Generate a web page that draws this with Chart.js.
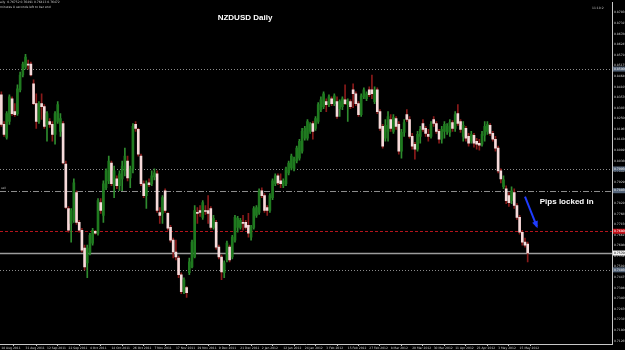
<!DOCTYPE html>
<html>
<head>
<meta charset="utf-8">
<script src="https://cdn.jsdelivr.net/npm/chart.js@4.4.1/dist/chart.umd.min.js"></script>
<style>
  html, body { margin: 0; padding: 0; background: #000; }
  canvas { display: block; }
</style>
</head>
<body>
<canvas id="chart" width="625" height="350"></canvas>
<script>
// tick labels
const tickDates = ["18 Aug 2011", "31 Aug 2011", "12 Sep 2011", "22 Sep 2011", "4 Oct 2011", "14 Oct 2011",
    "26 Oct 2011", "7 Nov 2011", "17 Nov 2011", "29 Nov 2011", "9 Dec 2011", "21 Dec 2011", "2 Jan 2012",
    "12 Jan 2012", "24 Jan 2012", "3 Feb 2012", "15 Feb 2012", "27 Feb 2012", "8 Mar 2012", "20 Mar 2012",
    "30 Mar 2012", "11 Apr 2012", "23 Apr 2012", "3 May 2012", "15 May 2012"];

const priceTicks = [0.87850, 0.87315, 0.86780, 0.86245, 0.85710, 0.85175, 0.84640, 0.84105, 0.83570, 0.83035,
    0.82500, 0.81965, 0.81430, 0.80895, 0.80360, 0.79825, 0.79290, 0.78755, 0.78220, 0.77685, 0.77150,
    0.76615, 0.76080, 0.75545, 0.75010, 0.74475, 0.73940, 0.73405, 0.72870, 0.72335, 0.71800, 0.71265];

// daily bars, 18 Aug 2011 -> 18 May 2012
const opens = [
    .8370, .8220, .8155, .8235, .8350, .8285, .8275, .8395, .8470, .8510,
    .8525, .8525, .8425, .8325, .8235, .8325, .8310, .8220, .8235, .8220,
    .8170, .8235, .8185, .8225, .8020, .7795, .7720, .7735, .7875, .7725,
    .7685, .7595, .7520, .7570, .7620, .7680, .7670, .7825, .7760, .7900,
    .7935, .8025, .7910, .7945, .7910, .7945, .7985, .8035, .7950, .7995,
    .8220, .8195, .8060, .7920, .7860, .7925, .7920, .7955, .7970,
    .7775, .7770, .7885, .7770, .7700, .7635, .7575, .7545,
    .7460, .7375, .7395, .7470, .7500, .7550, .7775, .7785, .7750, .7785,
    .7785, .7795, .7700, .7725, .7600, .7550, .7470, .7535, .7600, .7550,
    .7635, .7700, .7700, .7725, .7725, .7710, .7650, .7700, .7760, .7775,
    .7885, .7860, .7800, .7785, .7850, .7920, .7960, .7935, .7910, .7920,
    .7975, .8000, .7995, .8035, .8050, .8085, .8150, .8150, .8185, .8225,
    .8200, .8235, .8295,
    .8310, .8335, .8320, .8350, .8325, .8335, .8300, .8310, .8345, .8320,
    .8335, .8395, .8375, .8325, .8270, .8360, .8350, .8395, .8395, .8335,
    .8395, .8285, .8210, .8150, .8185, .8245, .8185, .8250, .8220, .8085,
    .8180, .8270, .8245, .8160, .8120, .8095, .8160, .8225, .8200, .8170,
    .8160, .8245, .8225, .8185, .8145, .8185, .8185, .8180, .8230, .8200,
    .8275, .8235, .8160, .8200, .8160, .8135, .8165, .8135, .8125, .8120,
    .8165, .8185, .8215, .8175, .8145, .8100, .7985, .7905, .7895, .7860,
    .7835, .7875, .7810, .7750, .7675, .7625, .7615
];
const highs = [
    .8385, .8235, .8285, .8370, .8360, .8325, .8420, .8485, .8535, .8575,
    .8545, .8535, .8445, .8375, .8335, .8375, .8320, .8285, .8250, .8235,
    .8285, .8335, .8275, .8235, .8035, .7805, .7795, .7945, .7885, .7735,
    .7695, .7610, .7610, .7670, .7695, .7685, .7845, .7845, .7935, .7995,
    .8060, .8035, .8010, .7960, .7985, .8035, .8100, .8060, .8010, .8225,
    .8235, .8200, .8070, .7935, .7935, .7945, .7985, .7995, .7985,
    .7800, .7860, .7895, .7775, .7710, .7645, .7635, .7555,
    .7470, .7445, .7400, .7545, .7635, .7810, .7800, .7810, .7835, .7810,
    .7860, .7805, .7760, .7735, .7610, .7560, .7530, .7630, .7610, .7660,
    .7760, .7755, .7745, .7760, .7735, .7770, .7710, .7805, .7810, .7895,
    .7900, .7870, .7810, .7870, .7945, .7970, .7970, .7970, .7945, .8005,
    .8035, .8070, .8055, .8110, .8145, .8200, .8210, .8245, .8230, .8235,
    .8260, .8330, .8360,
    .8385, .8350, .8370, .8360, .8375, .8360, .8345, .8360, .8420, .8350,
    .8345, .8425, .8385, .8335, .8375, .8405, .8385, .8410, .8470, .8410,
    .8405, .8295, .8220, .8245, .8285, .8270, .8270, .8260, .8235, .8195,
    .8245, .8295, .8260, .8175, .8130, .8185, .8210, .8245, .8210, .8195,
    .8235, .8260, .8235, .8195, .8210, .8235, .8225, .8245, .8240, .8285,
    .8320, .8245, .8235, .8210, .8175, .8185, .8175, .8150, .8145, .8185,
    .8235, .8235, .8225, .8185, .8160, .8110, .7995, .7960, .7910, .7875,
    .7905, .7895, .7820, .7760, .7685, .7645, .7625
];
const lows = [
    .8210, .8160, .8145, .8220, .8265, .8260, .8265, .8385, .8460, .8500,
    .8500, .8465, .8320, .8200, .8225, .8245, .8200, .8135, .8205, .8135,
    .8120, .8225, .8160, .8020, .7795, .7675, .7625, .7725, .7715, .7675,
    .7575, .7485, .7445, .7560, .7610, .7665, .7660, .7770, .7725, .7890,
    .7920, .7910, .7850, .7895, .7885, .7885, .7960, .7935, .7900, .7975,
    .8185, .8060, .7910, .7850, .7795, .7905, .7910, .7940, .7775,
    .7720, .7720, .7775, .7685, .7625, .7545, .7535, .7445,
    .7365, .7365, .7345, .7460, .7495, .7545, .7720, .7755, .7740, .7765,
    .7720, .7690, .7690, .7590, .7540, .7435, .7445, .7525, .7525, .7540,
    .7625, .7675, .7690, .7685, .7690, .7650, .7635, .7690, .7750, .7765,
    .7850, .7775, .7760, .7775, .7840, .7910, .7915, .7900, .7900, .7910,
    .7965, .7990, .7985, .8025, .8040, .8075, .8140, .8140, .8175, .8145,
    .8190, .8225, .8285,
    .8300, .8285, .8310, .8315, .8315, .8250, .8260, .8295, .8320, .8235,
    .8300, .8305, .8315, .8260, .8260, .8350, .8340, .8360, .8350, .8325,
    .8275, .8190, .8100, .8135, .8135, .8185, .8175, .8195, .8070, .8050,
    .8160, .8235, .8150, .8095, .8045, .8085, .8125, .8185, .8160, .8135,
    .8150, .8210, .8175, .8125, .8125, .8150, .8170, .8160, .8185, .8185,
    .8215, .8180, .8135, .8135, .8110, .8125, .8105, .8095, .8090, .8110,
    .8135, .8170, .8165, .8135, .8085, .7975, .7925, .7895, .7820, .7805,
    .7820, .7795, .7740, .7665, .7610, .7600, .7525
];
const closes = [
    .8220, .8170, .8275, .8360, .8275, .8270, .8400, .8470, .8525, .8560,
    .8520, .8470, .8325, .8235, .8325, .8310, .8210, .8275, .8220, .8170,
    .8275, .8320, .8250, .8025, .7800, .7685, .7785, .7925, .7725, .7685,
    .7585, .7500, .7595, .7660, .7685, .7670, .7835, .7785, .7920, .7985,
    .8035, .7920, .7985, .7910, .7970, .8010, .8060, .7950, .7995, .8210,
    .8200, .8070, .7920, .7860, .7920, .7915, .7960, .7975, .7785,
    .7760, .7850, .7785, .7695, .7635, .7575, .7550, .7460,
    .7375, .7435, .7370, .7525, .7625, .7785, .7770, .7775, .7825, .7780,
    .7770, .7700, .7745, .7600, .7550, .7475, .7520, .7620, .7535, .7650,
    .7750, .7745, .7735, .7720, .7700, .7670, .7700, .7795, .7800, .7885,
    .7860, .7785, .7785, .7860, .7935, .7960, .7925, .7920, .7935, .7995,
    .8025, .8060, .8045, .8100, .8135, .8185, .8200, .8235, .8220, .8185,
    .8250, .8320, .8345,
    .8375, .8320, .8360, .8325, .8365, .8260, .8335, .8350, .8325, .8335,
    .8310, .8375, .8325, .8270, .8365, .8395, .8375, .8370, .8375, .8395,
    .8285, .8200, .8110, .8215, .8260, .8200, .8255, .8210, .8085, .8180,
    .8230, .8245, .8160, .8110, .8095, .8170, .8195, .8195, .8175, .8160,
    .8220, .8225, .8185, .8145, .8195, .8220, .8210, .8230, .8200, .8270,
    .8225, .8195, .8215, .8150, .8125, .8170, .8125, .8120, .8115, .8170,
    .8210, .8220, .8175, .8145, .8100, .7985, .7945, .7940, .7835, .7825,
    .7885, .7810, .7750, .7675, .7625, .7610, .7570
];

// horizontal lines drawn on the chart (price levels)
const levelPrices = [0.8500, 0.7995, 0.7885, 0.7680, 0.7570, 0.7485];
const levelStyles = [
    { color: "#8c8c8c", dash: [1, 2], width: 1, box: "#55657a", text: "#e8e8e8" },
    { color: "#8c8c8c", dash: [1, 2], width: 1, box: "#55657a", text: "#e8e8e8" },
    { color: "#8c8c8c", dash: [6, 2, 1, 2], width: 1, box: "#55657a", text: "#e8e8e8" },
    { color: "#b3141c", dash: [3, 2], width: 1, box: "#c8121a", text: "#ffffff" },
    { color: "#9c9c9c", dash: [], width: 1.6, box: "#f2f2f2", text: "#000000" },
    { color: "#8c8c8c", dash: [1, 2], width: 1, box: "#55657a", text: "#e8e8e8" },
];

const infoLines = ["aily  0.76752 0.76491 0.76413 0.76472", "minutes 8 seconds left to bar end"];

const MONTHS = ["Jan", "Feb", "Mar", "Apr", "May", "Jun", "Jul", "Aug", "Sep", "Oct", "Nov", "Dec"];
const dates = [];
let day = new Date(Date.UTC(2011, 7, 18));
while (dates.length < opens.length) {
    const wd = day.getUTCDay();
    if (wd !== 0 && wd !== 6) {
        dates.push(`${day.getUTCDate()} ${MONTHS[day.getUTCMonth()]} ${day.getUTCFullYear()}`);
    }
    day = new Date(day.getTime() + 86400000);
}
const tickIdx = tickDates.map((t) => dates.indexOf(t)).filter((i) => i >= 0);

const BULL_BODY = "#1f7a1f";
const BULL_WICK = "#2e8b2e";
const BEAR_BODY = "#f6dada";
const BEAR_WICK = "#8a1a1a";

const isBull = (i) => closes[i] >= opens[i];

const overlay = {
    id: "overlay",
    beforeDraw(chart) {
        const { ctx } = chart;
        ctx.save();
        ctx.fillStyle = "#000";
        ctx.fillRect(0, 0, chart.width, chart.height);
        ctx.restore();
    },
    beforeDatasetsDraw(chart) {
        const { ctx, chartArea, scales } = chart;
        ctx.save();
        levelPrices.forEach((p, k) => {
            const st = levelStyles[k];
            const y = Math.round(scales.y.getPixelForValue(p)) + 0.5;
            ctx.strokeStyle = st.color;
            ctx.lineWidth = st.width;
            ctx.setLineDash(st.dash);
            ctx.beginPath();
            ctx.moveTo(chartArea.left, y);
            ctx.lineTo(chartArea.right, y);
            ctx.stroke();
        });
        ctx.setLineDash([]);
        // small object label at the left end of the dash-dot line
        ctx.fillStyle = "#bdbdbd";
        ctx.font = "3px 'DejaVu Sans'";
        ctx.textBaseline = "bottom";
        ctx.fillText("sell", chartArea.left + 1, scales.y.getPixelForValue(levelPrices[2]) - 0.5);
        ctx.restore();
    },
    afterDraw(chart) {
        const { ctx, chartArea, scales } = chart;
        ctx.save();
        // price boxes on the right axis
        ctx.font = "3px 'DejaVu Sans'";
        ctx.textBaseline = "middle";
        ctx.textAlign = "left";
        levelPrices.forEach((p, k) => {
            const st = levelStyles[k];
            const y = scales.y.getPixelForValue(p);
            ctx.fillStyle = st.box;
            ctx.fillRect(chartArea.right + 1, y - 2.5, 13, 5);
            ctx.fillStyle = st.text;
            ctx.fillText(p.toFixed(5), chartArea.right + 2, y);
        });

        // chart info in the corners
        ctx.fillStyle = "#c8c8c8";
        ctx.textBaseline = "top";
        infoLines.forEach((t, k) => ctx.fillText(t, 0, 1 + k * 4.5));
        ctx.fillText("11:10:2", 592, 7);

        // title
        ctx.fillStyle = "#ffffff";
        ctx.font = "bold 8px 'Liberation Sans'";
        ctx.textAlign = "center";
        ctx.textBaseline = "middle";
        ctx.fillText("NZDUSD Daily", 245, 18);

        // annotation arrow and text
        const x0 = scales.x.getPixelForValue(195), y0 = scales.y.getPixelForValue(0.7855);
        const x1 = scales.x.getPixelForValue(199.4), y1 = scales.y.getPixelForValue(0.7705);
        ctx.strokeStyle = "#1f3cff";
        ctx.fillStyle = "#1f3cff";
        ctx.lineWidth = 2;
        ctx.beginPath();
        ctx.moveTo(x0, y0);
        ctx.lineTo(x1, y1);
        ctx.stroke();
        const ang = Math.atan2(y1 - y0, x1 - x0);
        ctx.beginPath();
        ctx.moveTo(x1 + 2 * Math.cos(ang), y1 + 2 * Math.sin(ang));
        ctx.lineTo(x1 - 5 * Math.cos(ang) + 3 * Math.sin(ang), y1 - 5 * Math.sin(ang) - 3 * Math.cos(ang));
        ctx.lineTo(x1 - 5 * Math.cos(ang) - 3 * Math.sin(ang), y1 - 5 * Math.sin(ang) + 3 * Math.cos(ang));
        ctx.closePath();
        ctx.fill();

        ctx.fillStyle = "#ffffff";
        ctx.font = "bold 8px 'Liberation Sans'";
        ctx.textAlign = "left";
        ctx.fillText("Pips locked in", scales.x.getPixelForValue(200.5), scales.y.getPixelForValue(0.7830));
        ctx.restore();
    },
};

new Chart(document.getElementById("chart"), {
    type: "bar",
    data: {
        datasets: [
            {
                label: "wick",
                data: opens.map((o, i) => ({ x: i, y: [lows[i], highs[i]] })),
                backgroundColor: opens.map((o, i) => (isBull(i) ? BULL_WICK : BEAR_WICK)),
                barThickness: 1,
                grouped: false,
                order: 2,
            },
            {
                label: "body",
                data: opens.map((o, i) => ({ x: i, y: [o, closes[i]] })),
                backgroundColor: opens.map((o, i) => (isBull(i) ? BULL_BODY : BEAR_BODY)),
                barThickness: 2,
                minBarLength: 1,
                grouped: false,
                order: 1,
            },
        ],
    },
    options: {
        responsive: false,
        animation: false,
        layout: { padding: 0 },
        plugins: {
            legend: { display: false },
            tooltip: { enabled: false },
        },
        scales: {
            x: {
                type: "linear",
                offset: false,
                min: -0.5,
                max: 227.4,
                afterBuildTicks: (scale) => {
                    scale.ticks = tickIdx.map((v) => ({ value: v }));
                },
                afterFit: (scale) => {
                    scale.height = 6;
                },
                ticks: {
                    autoSkip: false,
                    maxRotation: 0,
                    align: "start",
                    padding: 0,
                    color: "#d0d0d0",
                    font: { size: 3, family: "DejaVu Sans" },
                    callback: (v) => dates[v] || "",
                },
                grid: {
                    drawOnChartArea: false,
                    tickLength: 2,
                    color: "#c8c8c8",
                },
                border: { color: "#c8c8c8" },
            },
            y: {
                type: "linear",
                position: "right",
                min: 0.7110,
                max: 0.8835,
                afterBuildTicks: (scale) => {
                    scale.ticks = priceTicks.map((v) => ({ value: v }));
                },
                afterFit: (scale) => {
                    scale.width = 13;
                },
                ticks: {
                    padding: 1,
                    color: "#d0d0d0",
                    font: { size: 3, family: "DejaVu Sans" },
                    callback: (v) => v.toFixed(5),
                },
                grid: {
                    drawOnChartArea: false,
                    tickLength: 1,
                    color: "#c8c8c8",
                },
                border: { color: "#c8c8c8" },
            },
        },
    },
    plugins: [overlay],
});
</script>
</body>
</html>
